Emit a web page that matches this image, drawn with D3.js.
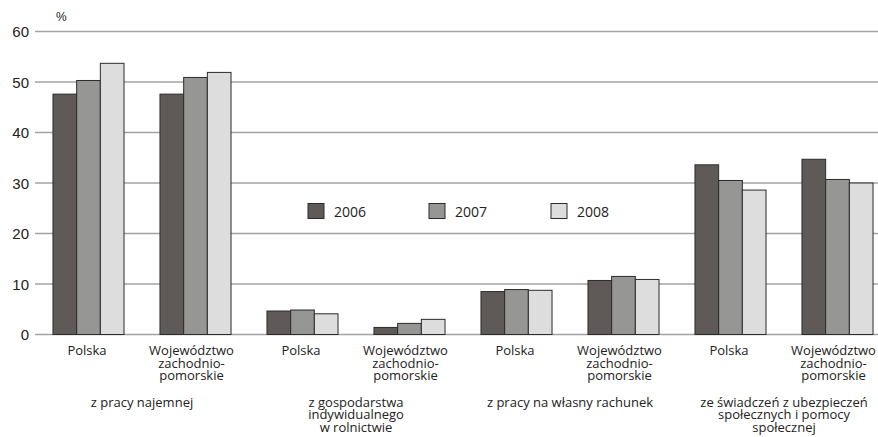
<!DOCTYPE html>
<html>
<head>
<meta charset="utf-8">
<script src="https://cdn.jsdelivr.net/npm/d3@7"></script>
<style>
  body { margin: 0; background: #fff; }
  svg { display: block; }
  .tick-label { font-family: "Liberation Sans", Arial, sans-serif; font-size: 15px; fill: #222; }
  .cat { font-family: "Open Sans", "Noto Sans", sans-serif; font-size: 13px; fill: #222; }
  .legend { font-family: "Open Sans", "Noto Sans", sans-serif; font-size: 14px; fill: #222; }
</style>
</head>
<body>
<svg id="chart"></svg>
<script>
// data
const years = ["2006", "2007", "2008"]
const regions = ["Polska", "Województwo zachodnio- pomorskie"]
const sources = [
	["z pracy najemnej"],
	["z gospodarstwa", "indywidualnego", "w rolnictwie"],
	["z pracy na własny rachunek"],
	["ze świadczeń z ubezpieczeń", "społecznych i pomocy", "społecznej"]
]
const v2006 = [47.6, 47.6, 4.65, 1.4, 8.5, 10.7, 33.6, 34.7]
const v2007 = [50.3, 50.9, 4.85, 2.2, 8.9, 11.5, 30.5, 30.7]
const v2008 = [53.7, 51.9, 4.1, 3.0, 8.75, 10.9, 28.6, 30.0]
const yTicks = [0, 10, 20, 30, 40, 50, 60]

const colors = ["#5f5a58", "#969694", "#dddddd"]

const width = 878
const height = 437

const svg = d3.select("#chart").attr("width", width).attr("height", height)

const groups = d3.range(8)

const x0 = d3.scaleBand()
	.domain(groups)
	.range([35, 891])
	.paddingInner(0.336)
	.paddingOuter(0.168)

const x1 = d3.scaleBand()
	.domain(years)
	.range([0, x0.bandwidth()])

const y = d3.scaleLinear()
	.domain([0, 60])
	.range([334.5, 31.5])

// grid
svg.append("g")
	.selectAll("line")
	.data(yTicks)
	.join("line")
		.attr("x1", 35)
		.attr("x2", width)
		.attr("y1", d => y(d))
		.attr("y2", d => y(d))
		.attr("stroke", "#a3a3a3")
		.attr("stroke-width", 1.5)

svg.append("g")
	.selectAll("text")
	.data(yTicks)
	.join("text")
		.attr("class", "tick-label")
		.attr("x", 29)
		.attr("y", d => y(d) + 5.5)
		.attr("text-anchor", "end")
		.text(d => d)

svg.append("text")
	.attr("class", "tick-label")
	.style("font-size", "12px")
	.attr("x", 56)
	.attr("y", 21)
	.text("%")

// bars
const series = [v2006, v2007, v2008]
const rows = []
groups.forEach(g => {
	years.forEach((yr, k) => {
		rows.push({group: g, year: yr, k: k, value: series[k][g]})
	})
})

svg.append("g")
	.selectAll("rect")
	.data(rows)
	.join("rect")
		.attr("x", d => x0(d.group) + x1(d.year))
		.attr("y", d => y(d.value))
		.attr("width", x1.bandwidth())
		.attr("height", d => y(0) - y(d.value))
		.attr("fill", d => colors[d.k])
		.attr("stroke", "#2b2b2b")
		.attr("stroke-width", 1)

// region labels under each group
groups.forEach(g => {
	const shift = g % 2 ? -4 : -1.5
	const cx = x0(g) + x0.bandwidth() / 2 + shift
	const lines = regions[g % 2].split(" ")
	const t = svg.append("text")
		.attr("class", "cat")
		.attr("text-anchor", "middle")
	lines.forEach((ln, i) => {
		t.append("tspan")
			.attr("x", cx)
			.attr("y", 355 + i * 12.5)
			.text(ln)
	})
})

// source labels
sources.forEach((lines, s) => {
	const cx = (x0(s * 2) + x0(s * 2 + 1) + x0.bandwidth()) / 2
	const t = svg.append("text")
		.attr("class", "cat")
		.attr("text-anchor", "middle")
	lines.forEach((ln, i) => {
		t.append("tspan")
			.attr("x", cx)
			.attr("y", 406.5 + i * 12.5)
			.text(ln)
	})
})

// legend
const legendX = [308, 429, 551]
const legend = svg.append("g")
years.forEach((yr, k) => {
	legend.append("rect")
		.attr("x", legendX[k])
		.attr("y", 203.5)
		.attr("width", 16)
		.attr("height", 15)
		.attr("fill", colors[k])
		.attr("stroke", "#2b2b2b")
		.attr("stroke-width", 1)
	legend.append("text")
		.attr("class", "legend")
		.attr("x", legendX[k] + 26)
		.attr("y", 216.5)
		.text(yr)
})
</script>
</body>
</html>
